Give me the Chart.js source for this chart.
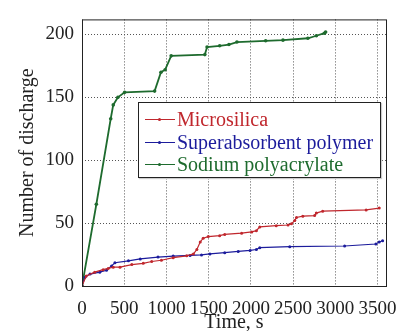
<!DOCTYPE html>
<html>
<head>
<meta charset="utf-8">
<script src="https://cdn.jsdelivr.net/npm/chart.js@4"></script>
<style>
  body { margin: 0; background: #fff; }
  #wrap { position: relative; width: 414px; height: 331px; }
  #legend {
    position: absolute; left: 138px; top: 102px; width: 241px; height: 74px;
    border: 1px solid #222; background: #fff; box-shadow: 1px 1px 1px #ccc;
    font-family: "Liberation Serif", "Times New Roman", serif; font-size: 20px;
  }
  #legend .row { position: absolute; left: 6px; height: 22px; line-height: 22px; white-space: nowrap; }
  #legend .swatch { position: absolute; left: 0; top: 11px; width: 30px; height: 1px; }
  #legend .dot { position: absolute; left: 13px; top: -1px; width: 3px; height: 3px; border-radius: 2px; }
  #legend .label { position: absolute; left: 32px; top: 0; }
</style>
</head>
<body>
<div id="wrap">
  <canvas id="chart" width="414" height="331"></canvas>
  <div id="legend"></div>
</div>
<script>
// series labels and colours
const seriesNames = ['Microsilica', 'Superabsorbent polymer', 'Sodium polyacrylate'];
const seriesColors = ['#c0272d', '#1c1c9c', '#1e6b2e'];

// Microsilica: time (s), discharges
const microTime = [0, 50, 150, 250, 310, 370, 450, 590, 725, 825, 940, 1080, 1240, 1320, 1360, 1400, 1435, 1495, 1630, 1690, 1890, 2010, 2065, 2105, 2300, 2440, 2480, 2520, 2540, 2615, 2755, 2775, 2850, 3365, 3520];
const microCount = [0, 8, 11, 13, 14, 15, 15, 17, 18, 19.5, 20.5, 22.5, 24, 25.5, 29, 35, 38, 39.3, 40, 41, 42, 43, 44, 47, 48, 48.5, 49.6, 52, 54.5, 55.5, 56, 58, 59.5, 60.5, 62];

// Superabsorbent polymer
const sapTime = [0, 35, 95, 210, 290, 350, 390, 550, 690, 900, 1080, 1280, 1415, 1515, 1690, 1850, 1990, 2065, 2105, 2460, 3110, 3480, 3520, 3560];
const sapCount = [0, 7, 9.5, 11, 12.5, 16, 18.5, 20, 21.5, 23, 23.8, 24.3, 24.7, 25.5, 26.5, 27.5, 28.3, 29, 30.5, 31.3, 31.8, 33.4, 35, 36];

// Sodium polyacrylate
const spaTime = [0, 170, 340, 370, 425, 505, 860, 935, 985, 1056, 1455, 1481, 1630, 1740, 1835, 2175, 2380, 2675, 2775, 2870, 2885];
const spaCount = [0, 65, 133, 144, 150, 154, 155, 170, 172, 183, 184, 190, 191, 192, 194, 195, 195.5, 197, 199, 201, 202];

const xTicks = [0, 500, 1000, 1500, 2000, 2500, 3000, 3500];
const yTicks = [0, 50, 100, 150, 200];

const toPoints = (xs, ys) => xs.map((x, i) => ({ x: x, y: ys[i] }));
const serif = '"Liberation Serif", "Times New Roman", serif';

const frame = {
  id: 'frame',
  afterDraw(chart) {
    const { ctx, chartArea: a } = chart;
    ctx.save();
    ctx.strokeStyle = '#222';
    ctx.lineWidth = 1;
    ctx.strokeRect(a.left + 0.5, a.top + 0.5, a.right - a.left, a.bottom - a.top);
    ctx.restore();
  }
};

const datasets = [
  toPoints(microTime, microCount),
  toPoints(sapTime, sapCount),
  toPoints(spaTime, spaCount)
].map((pts, i) => ({
  label: seriesNames[i],
  data: pts,
  borderColor: seriesColors[i],
  backgroundColor: seriesColors[i],
  borderWidth: i === 2 ? 1.8 : 1.2,
  pointRadius: i === 2 ? 1.8 : 1.5,
  pointBorderWidth: 0,
  tension: 0
}));

new Chart(document.getElementById('chart'), {
  type: 'line',
  data: { datasets: datasets },
  options: {
    responsive: false,
    animation: false,
    layout: { padding: { top: 10, right: 28, left: 0, bottom: 0 } },
    plugins: { legend: { display: false }, tooltip: { enabled: false } },
    scales: {
      x: {
        type: 'linear', min: 0, max: 3600,
        afterFit: s => { s.height = 45; },
        afterBuildTicks: s => { s.ticks = xTicks.map(v => ({ value: v })); },
        grid: { color: '#555', lineWidth: 1, drawTicks: false },
        border: { display: false, dash: [1, 2] },
        ticks: { autoSkip: false, maxRotation: 0, padding: 12, color: '#222', font: { family: serif, size: 19 }, callback: v => String(v) },
        title: { display: true, text: 'Time, s', color: '#222', padding: { top: 0, bottom: 0 }, font: { family: serif, size: 20, lineHeight: 0.8 } }
      },
      y: {
        min: 0, max: 212,
        afterFit: s => { s.width = 82; },
        afterBuildTicks: s => { s.ticks = yTicks.map(v => ({ value: v })); },
        grid: { color: '#555', lineWidth: 1, drawTicks: false },
        border: { display: false, dash: [1, 2] },
        ticks: { padding: 8, color: '#222', font: { family: serif, size: 19 }, callback: v => String(v) },
        title: { display: true, text: 'Number of discharge', color: '#222', padding: { top: 16, bottom: 0 }, font: { family: serif, size: 20, lineHeight: 1.2 } }
      }
    }
  },
  plugins: [frame]
});

// legend inside the plot
const legend = document.getElementById('legend');
seriesNames.forEach((name, i) => {
  const row = document.createElement('div');
  row.className = 'row';
  row.style.top = (5 + i * 22.5) + 'px';
  row.innerHTML = '<span class="swatch" style="background:' + seriesColors[i] + '"><span class="dot" style="background:' + seriesColors[i] + '"></span></span>' +
    '<span class="label" style="color:' + seriesColors[i] + '">' + name + '</span>';
  legend.appendChild(row);
});
</script>
</body>
</html>
